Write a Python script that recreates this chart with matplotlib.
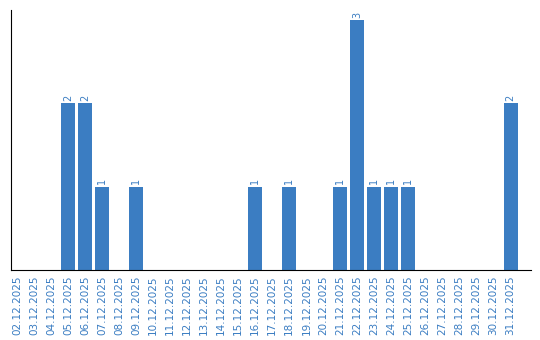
import matplotlib
matplotlib.use("Agg")
import matplotlib.pyplot as plt

days = ["%02d.12.2025" % d for d in range(2, 32)]
counts = [0, 0, 0, 2, 2, 1, 0, 1, 0, 0, 0, 0, 0, 0, 1, 0, 1, 0, 0, 1, 3, 1, 1, 1, 0, 0, 0, 0, 0, 2]

blue = "#3b7dc2"

fig = plt.figure(figsize=(5.4, 3.4), dpi=100)
ax = fig.add_axes([11 / 540, 70 / 340, 520 / 540, 260 / 340])

x = list(range(len(days)))
ax.bar(x, counts, width=0.82, color=blue)
for xi, c in zip(x, counts):
    if c > 0:
        ax.text(xi, c + 0.03, str(c), rotation=90, ha="center", va="bottom",
                color=blue, fontsize=7)

ax.set_xlim(-0.35, 30.2)
ax.set_ylim(0, 3.12)
ax.set_xticks(x)
ax.set_xticklabels(days, rotation=90, color=blue, fontsize=7.5)
ax.tick_params(axis="x", length=0, pad=4)
ax.set_yticks([])
ax.spines["top"].set_visible(False)
ax.spines["right"].set_visible(False)

fig.savefig("out.png", dpi=100)
